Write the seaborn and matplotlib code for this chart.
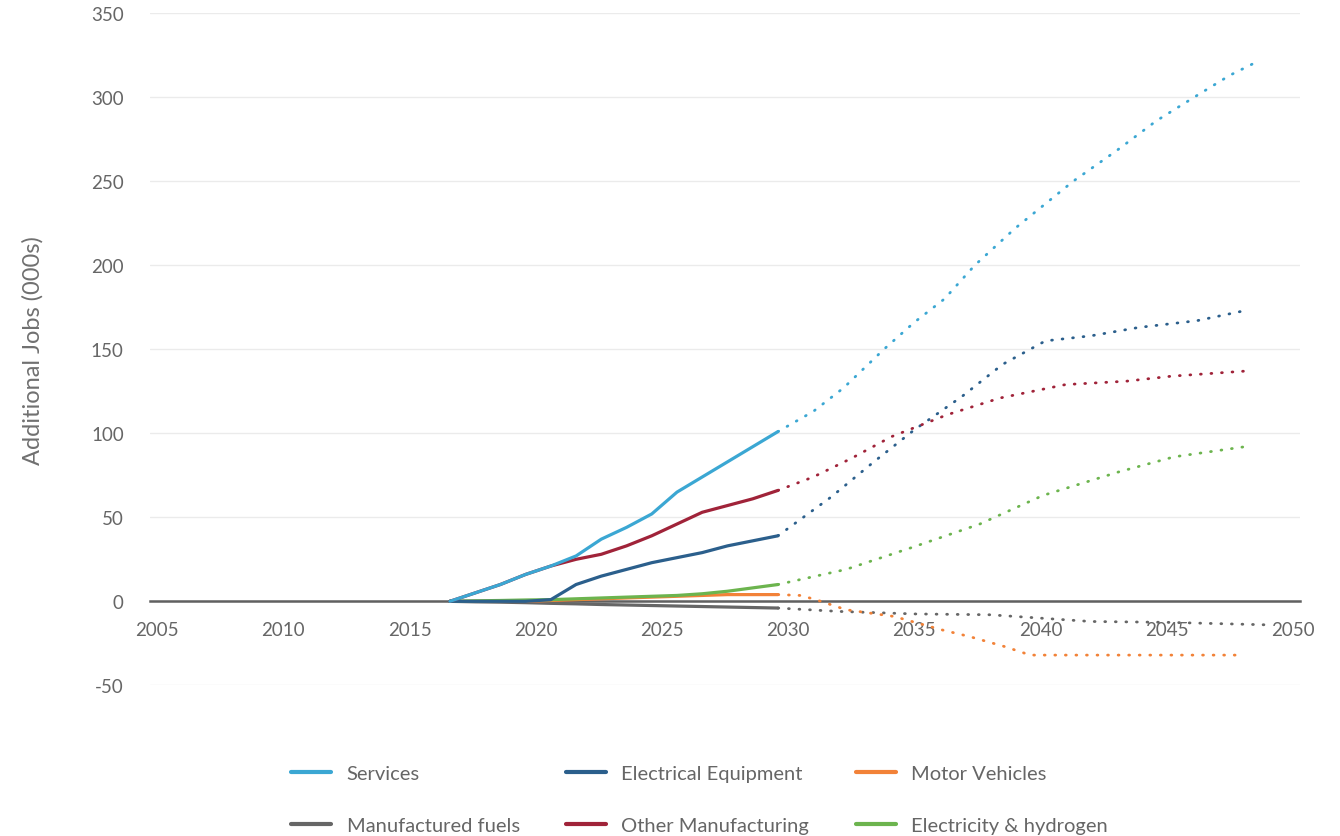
import pandas as pd
import matplotlib
matplotlib.use('Agg')
import matplotlib.pyplot as plt
from matplotlib.lines import Line2D
import seaborn as sns

# Values (thousands of additional jobs)
years_actual = [2016.6, 2017.6, 2018.6, 2019.6, 2020.6, 2021.6, 2022.6,
                2023.6, 2024.6, 2025.6, 2026.6, 2027.6, 2028.6, 2029.6]
services_actual = [0, 5, 10, 16, 21, 27, 37, 44, 52, 65, 74, 83, 92, 101]
elec_equip_actual = [0, 0, 0, 0, 1, 10, 15, 19, 23, 26, 29, 33, 36, 39]
motor_actual = [0, 0, 0, 0, 0.5, 1, 1.5, 2, 2.5, 3, 3.5, 4, 4, 4]
fuels_actual = [0, -0.3, -0.5, -0.8, -1.2, -1.5, -1.9, -2.2, -2.5, -2.8, -3.1, -3.4, -3.7, -4]
other_mfg_actual = [0, 5, 10, 16, 21, 25, 28, 33, 39, 46, 53, 57, 61, 66]
elec_h2_actual = [0, 0.3, 0.5, 0.8, 1, 1.5, 2, 2.5, 3, 3.5, 4.5, 6, 8, 10]

services_proj_years = [2029.6, 2031, 2032.2, 2033.8, 2035, 2036.2, 2037.4, 2039,
                       2041.3, 2043, 2044.6, 2046.2, 2047.5, 2048.7]
services_proj = [101, 113, 127, 150, 166, 180, 200, 222, 250, 268, 286, 301, 313, 322]
elec_equip_proj_years = [2029.6, 2031.7, 2033.4, 2035, 2036.9, 2038.5, 2040.2, 2042, 2043.9, 2046.2, 2048.1]
elec_equip_proj = [39, 62, 83, 102, 122, 141, 155, 158, 163, 167, 173]
motor_proj_years = [2029.6, 2030.5, 2031.1, 2032.3, 2034.2, 2036.1, 2037.2, 2038.6, 2039.6, 2048.1]
motor_proj = [4, 3.5, 1, -5, -9, -17, -21, -27, -32, -32]
fuels_proj_years = [2029.6, 2032, 2035, 2038, 2040, 2042, 2045, 2049]
fuels_proj = [-4, -6, -7.5, -8, -10, -12, -12.5, -14]
other_mfg_proj_years = [2029.6, 2031, 2032.5, 2034.1, 2036.3, 2038.4, 2041, 2043.4, 2045.2, 2048.1]
other_mfg_proj = [66, 74, 85, 98, 111, 121, 129, 131, 134, 137]
elec_h2_proj_years = [2029.6, 2032.3, 2034.9, 2037.6, 2040.1, 2043.1, 2045.3, 2048.1]
elec_h2_proj = [10, 19, 32, 46, 63, 77, 86, 92]

sectors = ['Services', 'Electrical Equipment', 'Motor Vehicles',
           'Manufactured fuels', 'Other Manufacturing', 'Electricity & hydrogen']
colors = ['#3ba7d3', '#2b5f8c', '#f28238', '#666666', '#a02339', '#6cb44e']
x_ticks = [2005, 2010, 2015, 2020, 2025, 2030, 2035, 2040, 2045, 2050]
y_ticks = [-50, 0, 50, 100, 150, 200, 250, 300, 350]

actual = {
    'Services': services_actual,
    'Electrical Equipment': elec_equip_actual,
    'Motor Vehicles': motor_actual,
    'Manufactured fuels': fuels_actual,
    'Other Manufacturing': other_mfg_actual,
    'Electricity & hydrogen': elec_h2_actual,
}
projected = {
    'Services': (services_proj_years, services_proj),
    'Electrical Equipment': (elec_equip_proj_years, elec_equip_proj),
    'Motor Vehicles': (motor_proj_years, motor_proj),
    'Manufactured fuels': (fuels_proj_years, fuels_proj),
    'Other Manufacturing': (other_mfg_proj_years, other_mfg_proj),
    'Electricity & hydrogen': (elec_h2_proj_years, elec_h2_proj),
}

# Build one long table for seaborn
rows = []
for s in sectors:
    for yr, v in zip(years_actual, actual[s]):
        rows.append({'year': yr, 'jobs': v, 'sector': s, 'phase': 'Actual'})
    for yr, v in zip(*projected[s]):
        rows.append({'year': yr, 'jobs': v, 'sector': s, 'phase': 'Projection'})
df = pd.DataFrame(rows)

sns.set_theme(style='white')
plt.rcParams['font.family'] = ['Lato', 'DejaVu Sans']
plt.rcParams['axes.unicode_minus'] = False

fig = plt.figure(figsize=(13.4, 8.37), dpi=100)
ax = fig.add_axes([0.112, 0.180, 0.858, 0.803])

palette = dict(zip(sectors, colors))
draw_order = ['Manufactured fuels', 'Motor Vehicles', 'Electricity & hydrogen',
              'Electrical Equipment', 'Other Manufacturing', 'Services']

# projections: dotted
sns.lineplot(data=df[df['phase'] == 'Projection'], x='year', y='jobs', hue='sector',
             hue_order=draw_order, palette=palette, estimator=None, sort=True,
             linewidth=2.0, legend=False, ax=ax)
for line in ax.get_lines():
    line.set_dashes((0.3, 3.5))
    line.set_dash_capstyle('round')
# history: solid
sns.lineplot(data=df[df['phase'] == 'Actual'], x='year', y='jobs', hue='sector',
             hue_order=draw_order, palette=palette, estimator=None, sort=True,
             linewidth=2.3, legend=False, ax=ax)

ax.set_xlim(2004.72, 2050.28)
ax.set_ylim(-50, 350)
ax.set_xticks(x_ticks)
ax.set_yticks(y_ticks)
ax.yaxis.grid(True, color='#ebebeb', linewidth=1)
ax.set_axisbelow(True)

for side in ['top', 'right', 'left']:
    ax.spines[side].set_visible(False)
ax.spines['bottom'].set_position(('data', 0))
ax.spines['bottom'].set_color('#606060')
ax.spines['bottom'].set_linewidth(1.8)
ax.spines['bottom'].set_zorder(1.5)

ax.tick_params(axis='x', length=0, pad=14, labelsize=13.5, labelcolor='#666666')
ax.tick_params(axis='y', length=0, pad=19, labelsize=13.5, labelcolor='#666666')
ax.set_xlabel('')
ax.set_ylabel('Additional Jobs (000s)', fontsize=17, color='#707070', labelpad=34)

handles = [Line2D([0], [0], color=palette[s], linewidth=3) for s in sectors]
order = [0, 3, 1, 4, 2, 5]
fig.legend([handles[i] for i in order], [sectors[i] for i in order],
           loc='center', bbox_to_anchor=(0.522, 0.044), ncol=3, frameon=False,
           fontsize=14.5, labelcolor='#666666', handlelength=2.0, handletextpad=0.75,
           columnspacing=2.3, labelspacing=1.75)

fig.savefig('out.png', dpi=100)
